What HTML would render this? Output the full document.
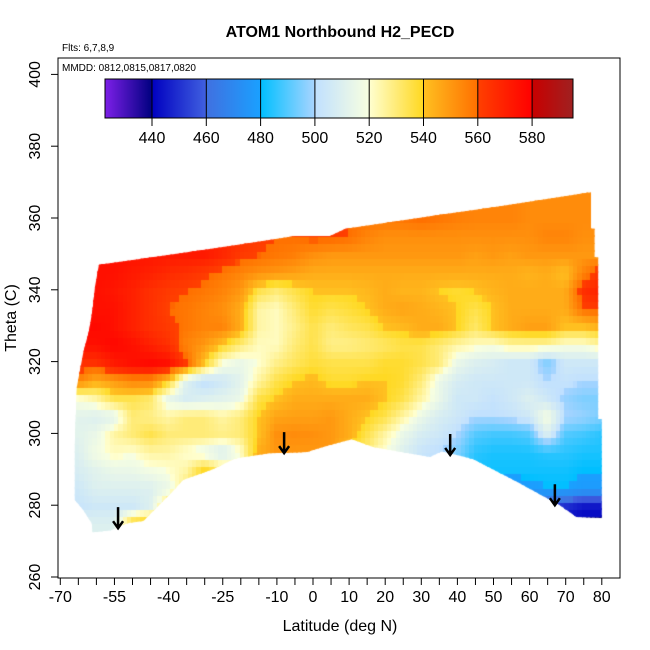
<!DOCTYPE html>
<html><head><meta charset="utf-8">
<style>
body{margin:0;background:#fff;font-family:"Liberation Sans",sans-serif;}
#wrap{position:relative;width:650px;height:650px;}
canvas,svg{position:absolute;left:0;top:0;}
</style></head>
<body>
<div id="wrap">
<canvas id="hm" width="650" height="650"></canvas>
<svg id="ov" width="650" height="650"></svg>
</div>
<script>
// ---- data ----
const lats = [-65,-60,-55,-50,-45,-40,-35,-30,-25,-20,-15,-10,-5,0,5,10,15,20,25,30,35,40,45,50,55,60,65,70,75,80];
const thetas = [270,275,280,285,290,295,300,305,310,315,320,325,330,335,340,345,350,355,360,365];
const h2 = [
 [510,510,510,540,545,545,540,540,535,530,545,550,550,550,550,540,530,520,510,503,500,495,483,480,475,460,450,440,438,438],
 [510,510,510,540,545,545,540,540,535,530,545,550,550,550,550,540,530,520,510,503,500,495,483,480,475,460,450,440,438,438],
 [503,505,505,505,510,535,540,540,535,530,545,550,550,550,550,540,530,520,510,503,500,495,483,480,475,460,455,450,445,445],
 [505,510,510,510,510,515,530,540,535,530,545,550,550,550,550,540,530,520,510,503,500,495,483,480,475,478,480,480,478,478],
 [508,512,515,515,518,520,525,540,530,525,545,550,550,550,550,540,530,520,510,503,500,495,483,482,482,482,482,482,480,480],
 [510,518,522,520,525,525,520,515,508,520,545,550,550,550,550,540,530,520,510,503,500,495,485,483,483,483,485,485,483,483],
 [512,515,525,530,535,530,530,530,528,530,540,552,553,552,550,545,535,525,515,508,505,500,490,488,488,490,510,490,488,485],
 [512,510,512,530,528,525,530,530,525,530,540,547,548,548,550,545,540,535,525,515,508,505,500,500,502,505,520,500,498,495],
 [520,525,535,535,532,515,508,510,512,515,535,540,545,545,545,545,545,540,535,525,515,505,505,502,505,510,505,498,495,495],
 [555,545,550,555,555,540,510,500,505,512,525,535,540,542,538,538,540,540,538,530,515,508,505,505,505,505,500,502,500,500],
 [565,565,572,575,577,575,562,540,520,515,520,528,533,537,535,535,535,538,538,535,530,515,510,508,505,505,495,505,505,505],
 [575,575,578,575,570,565,555,550,540,530,522,522,530,535,528,528,530,532,535,535,530,525,522,520,525,525,525,520,520,525],
 [577,577,575,570,565,562,558,555,555,545,525,522,528,535,530,533,535,540,542,545,545,540,532,540,545,548,548,540,540,545],
 [575,575,575,570,565,560,558,555,552,545,525,522,530,538,535,537,540,545,547,545,543,540,535,540,545,545,545,545,560,562],
 [575,575,573,570,565,562,560,558,555,550,535,530,535,540,540,540,542,545,543,543,540,538,540,543,545,545,545,545,565,570],
 [575,575,575,572,570,567,565,562,558,555,552,550,548,545,545,545,545,545,545,545,545,545,545,545,545,543,545,540,555,565],
 [575,575,575,574,573,572,572,572,568,562,560,558,556,552,550,550,550,550,550,550,550,550,548,550,548,550,550,550,550,550],
 [575,575,575,574,573,572,572,572,568,565,562,560,560,562,562,560,555,552,552,552,552,552,552,552,552,552,555,555,552,552],
 [575,575,575,574,573,572,572,572,568,565,562,560,560,562,562,560,558,558,558,560,558,556,555,555,555,553,553,553,553,553],
 [575,575,575,574,573,572,572,572,568,565,562,560,560,562,562,560,558,558,558,560,558,556,555,555,555,553,553,553,553,553]
];
const edgeLat = [-59.3,-45,-31,-18,-5,4.7,9,22.7,35.7,50,63,76,77,77,78,78,79,79,80,80,73,68.4,56.5,44.3,35.7,32.4,16.6,10.8,4.7,-1.7,-12,-21.6,-27.7,-36,-39,-47,-51.5,-56,-61,-61.3,-63.7,-66,-66,-65.4,-63.6,-62,-61,-60.4];
const edgeTh  = [347,349,351,353,355,355,357,359,361,363,365,367,367,357,357,349,349,304,304,276.4,276.7,280,286.5,292.9,295,293.4,296.2,298.4,296.8,294.8,294.5,293,290,287,283.7,275.6,275,273,272.5,275,278.7,281.5,296.8,313,322.7,328.8,335,340.8];
const arrowLat = [-54,-8,38,67];
const arrowTh = [273.6,294.5,294,280];
const xTickVals = [-70,-55,-40,-25,-10,0,10,20,30,40,50,60,70,80];
const yTickVals = [260,280,300,320,340,360,380,400];
const cbTicks = [440,460,480,500,520,540,560,580];

// ---- scales ----
const X = v => 313 + (v)*3.61;
const Y = t => 577 - (t-260)*3.59;
const CB = v => 152 + (v-440)*54.3/20;
const stops = [[423,[123,31,230]],[439.9,[0,0,128]],[440,[0,0,192]],[459.9,[64,96,224]],[460,[64,112,224]],[479.9,[26,160,255]],[480,[0,191,255]],[499.9,[168,212,255]],[500,[192,224,255]],[519.9,[248,255,224]],[520,[255,255,208]],[539.9,[255,216,32]],[540,[255,192,32]],[559.9,[255,112,0]],[560,[255,64,0]],[579.9,[255,0,0]],[580,[200,0,0]],[595,[160,32,32]]];
function col(v){
  if(v<=stops[0][0]) return stops[0][1];
  for(let i=1;i<stops.length;i++){ if(v<=stops[i][0]){const a=stops[i-1],b=stops[i];const f=(v-a[0])/(b[0]-a[0]);return a[1].map((c,k)=>Math.round(c+(b[1][k]-c)*f));}}
  return stops[stops.length-1][1];
}
function val(lat,th){
  let i=Math.max(0,Math.min(lats.length-2,Math.floor((lat-lats[0])/5)));
  let j=Math.max(0,Math.min(thetas.length-2,Math.floor((th-thetas[0])/5)));
  let fx=Math.max(0,Math.min(1,(lat-lats[i])/5)), fy=Math.max(0,Math.min(1,(th-thetas[j])/5));
  return h2[j][i]*(1-fx)*(1-fy)+h2[j][i+1]*fx*(1-fy)+h2[j+1][i]*(1-fx)*fy+h2[j+1][i+1]*fx*fy;
}
// ---- heatmap ----
const ctx=document.getElementById('hm').getContext('2d');
ctx.save();ctx.beginPath();
edgeLat.forEach((l,k)=>{k?ctx.lineTo(X(l),Y(edgeTh[k])):ctx.moveTo(X(l),Y(edgeTh[k]));});
ctx.closePath();ctx.clip();
for(let l=-67;l<81;l+=1.2){for(let t=271;t<369;t+=2){
  const c=col(val(l+0.6,t+1));ctx.fillStyle=`rgb(${c[0]},${c[1]},${c[2]})`;
  ctx.fillRect(Math.floor(X(l)),Math.floor(Y(t+2)),Math.ceil(1.2*3.61)+1,Math.ceil(2*3.59)+1);
}}
ctx.restore();
// ---- overlay ----
const NS='http://www.w3.org/2000/svg';const svg=document.getElementById('ov');
function mk(tag,attrs,txt){const e=document.createElementNS(NS,tag);for(const k in attrs)e.setAttribute(k,attrs[k]);if(txt!==undefined)e.textContent=txt;svg.appendChild(e);return e;}
const defs=mk('defs',{});const lg=document.createElementNS(NS,'linearGradient');lg.setAttribute('id','cbg');
stops.forEach(s=>{const st=document.createElementNS(NS,'stop');st.setAttribute('offset',((CB(s[0])-105)/468*100)+'%');st.setAttribute('stop-color',`rgb(${s[1].join(',')})`);lg.appendChild(st);});
defs.appendChild(lg);
let e=mk('rect',{x:105,y:79,width:468,height:39,fill:'url(#cbg)',stroke:'#000','stroke-width':1});

cbTicks.forEach(v=>{
  e=mk('line',{x1:CB(v),x2:CB(v),y1:79,y2:126,stroke:'#000','stroke-width':1});
  
  e=mk('text',{x:CB(v),y:143,'font-size':16,'text-anchor':'middle'},v);
  
});
arrowLat.forEach((l,k)=>{
  const x=X(l),y=Y(arrowTh[k]);
  e=mk('path',{d:`M${x},${y-21}L${x},${y} M${x-5},${y-7}L${x},${y}L${x+5},${y-7}`,stroke:'#000','stroke-width':2.5,fill:'none'});
  
});
e=mk('rect',{x:58,y:58,width:562,height:520,fill:'none',stroke:'#000','stroke-width':1});

for(let v=-70;v<=80;v+=5){
  e=mk('line',{x1:X(v),x2:X(v),y1:578,y2:585,stroke:'#000'});
  
}
xTickVals.forEach(v=>{e=mk('text',{x:X(v),y:602,'font-size':16,'text-anchor':'middle'},v);
  });
yTickVals.forEach(v=>{
  e=mk('line',{x1:51,x2:58,y1:Y(v),y2:Y(v),stroke:'#000'});
  
  e=mk('text',{x:40,y:Y(v),'font-size':16,'text-anchor':'middle',transform:`rotate(-90 40 ${Y(v)})`},v);
  
});
e=mk('text',{x:340,y:37,'font-size':16,'font-weight':'bold','text-anchor':'middle'},'ATOM1 Northbound H2_PECD');

e=mk('text',{x:62,y:51,'font-size':10},'Flts: 6,7,8,9');

e=mk('text',{x:62,y:71,'font-size':10},'MMDD: 0812,0815,0817,0820');

e=mk('text',{x:340,y:631,'font-size':16,'text-anchor':'middle'},'Latitude (deg N)');

e=mk('text',{x:16,y:318,'font-size':16,'text-anchor':'middle',transform:'rotate(-90 16 318)'},'Theta (C)');

</script>
</body></html>
